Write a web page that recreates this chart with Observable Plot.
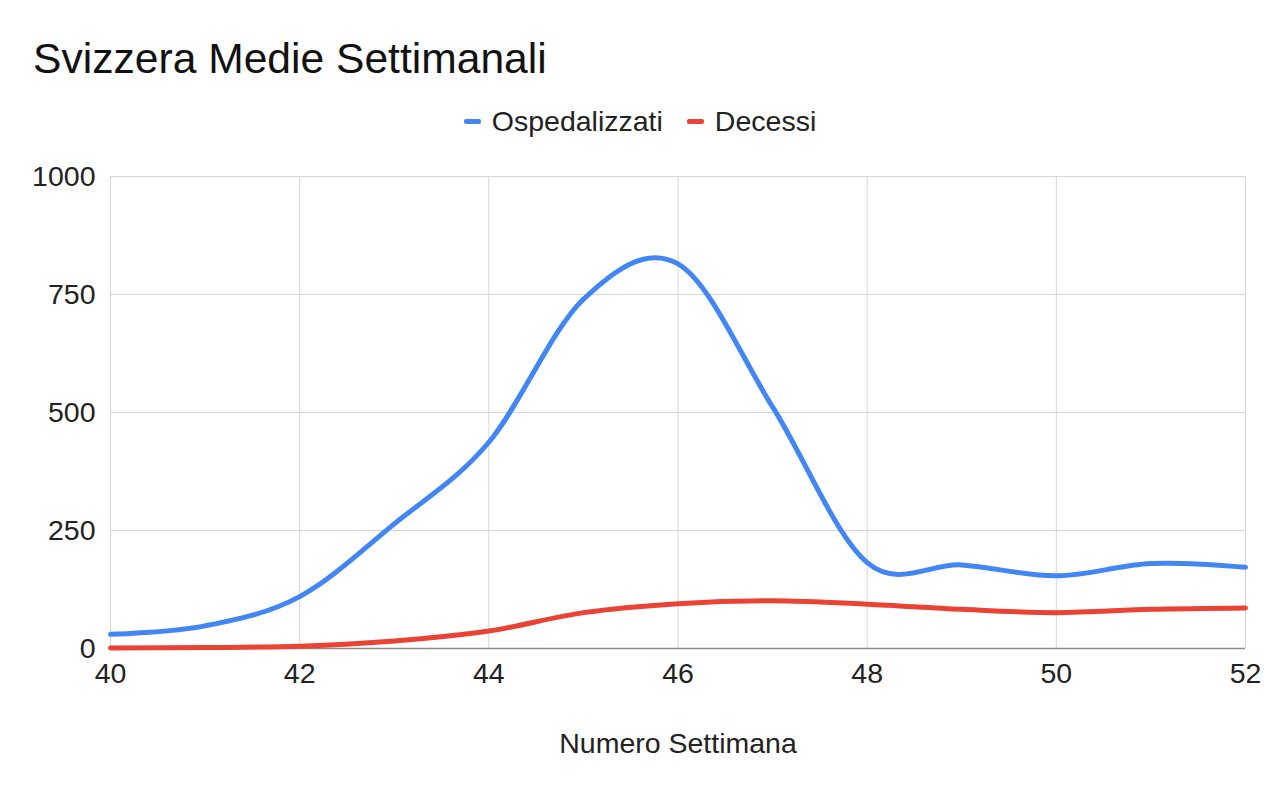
<!DOCTYPE html>
<html>
<head>
<meta charset="utf-8">
<script src="https://cdn.jsdelivr.net/npm/d3@7"></script>
<script src="https://cdn.jsdelivr.net/npm/@observablehq/plot@0.6"></script>
<style>
  html, body { margin: 0; padding: 0; background: #fff; }
  #wrap { position: relative; width: 1280px; height: 788px; font-family: "Liberation Sans", Arial, sans-serif; color: #222; }
  #head { position: relative; width: 1280px; height: 150px; }
  #title { position: absolute; left: 33px; top: 37px; font-size: 42.6px; line-height: 42px; color: #111; white-space: nowrap; }
  #legend { position: absolute; left: 0; width: 1280px; top: 107px; font-size: 28.5px; line-height: 28px; display: flex; justify-content: center; align-items: center; }
  .item { display: flex; align-items: center; margin: 0 12px; }
  .dash { display: inline-block; width: 17px; height: 5px; border-radius: 2px; margin-right: 11px; }
</style>
</head>
<body>
<div id="wrap">
  <div id="head">
    <div id="title"></div>
    <div id="legend"></div>
  </div>
  <div id="chart"></div>
</div>
<script>
const titleText = "Svizzera Medie Settimanali";
const xLabel = "Numero Settimana";
const seriesNames = ["Ospedalizzati", "Decessi"];
const seriesColors = ["#4285F4", "#EA4335"];
const weeks = [40, 41, 42, 43, 44, 45, 46, 47, 48, 49, 50, 51, 52];
const ospedalizzati = [30, 48, 110, 264, 437, 740, 815, 512, 182, 177, 154, 180, 172];
const decessi = [1, 2, 5, 16, 37, 76, 95, 101, 94, 83, 76, 83, 86];
const xTicks = [40, 42, 44, 46, 48, 50, 52];
const yTicks = [0, 250, 500, 750, 1000];

document.getElementById("title").textContent = titleText;
const legend = document.getElementById("legend");
seriesNames.forEach((name, i) => {
  const it = document.createElement("div");
  it.className = "item";
  const d = document.createElement("span");
  d.className = "dash";
  d.style.background = seriesColors[i];
  const t = document.createElement("span");
  t.textContent = name;
  it.appendChild(d); it.appendChild(t);
  legend.appendChild(it);
});

const data = weeks.flatMap((w, i) => [
  {week: w, value: ospedalizzati[i], series: seriesNames[0]},
  {week: w, value: decessi[i], series: seriesNames[1]}
]);

const chart = Plot.plot({
  width: 1280,
  height: 638,
  marginTop: 26,
  marginBottom: 140,
  marginLeft: 110,
  marginRight: 35,
  style: {fontFamily: '"Liberation Sans", Arial, sans-serif', fontSize: "28.5px", color: "#222", background: "white"},
  x: {domain: [40, 52]},
  y: {domain: [0, 1000]},
  color: {domain: seriesNames, range: seriesColors},
  marks: [
    Plot.gridX(xTicks, {stroke: "#d6d6d6", strokeOpacity: 1, strokeWidth: 1}),
    Plot.gridY(yTicks, {stroke: "#d6d6d6", strokeOpacity: 1, strokeWidth: 1}),
    Plot.axisX(xTicks, {tickSize: 0, tickPadding: 14, tickFormat: d => String(d), label: null}),
    Plot.axisY(yTicks, {tickSize: 0, tickPadding: 15, tickFormat: d => String(d), label: null}),
    Plot.ruleY([0], {stroke: "#8a8a8a", strokeWidth: 1.5}),
    Plot.line(data, {x: "week", y: "value", z: "series", stroke: "series", strokeWidth: 5, curve: "cardinal", tension: 0, strokeLinecap: "round", strokeLinejoin: "round"}),
    Plot.text([xLabel], {text: d => d, frameAnchor: "bottom", dy: 104, fontSize: 28.5, fill: "#222"})
  ]
});
document.getElementById("chart").appendChild(chart);
</script>
</body>
</html>
